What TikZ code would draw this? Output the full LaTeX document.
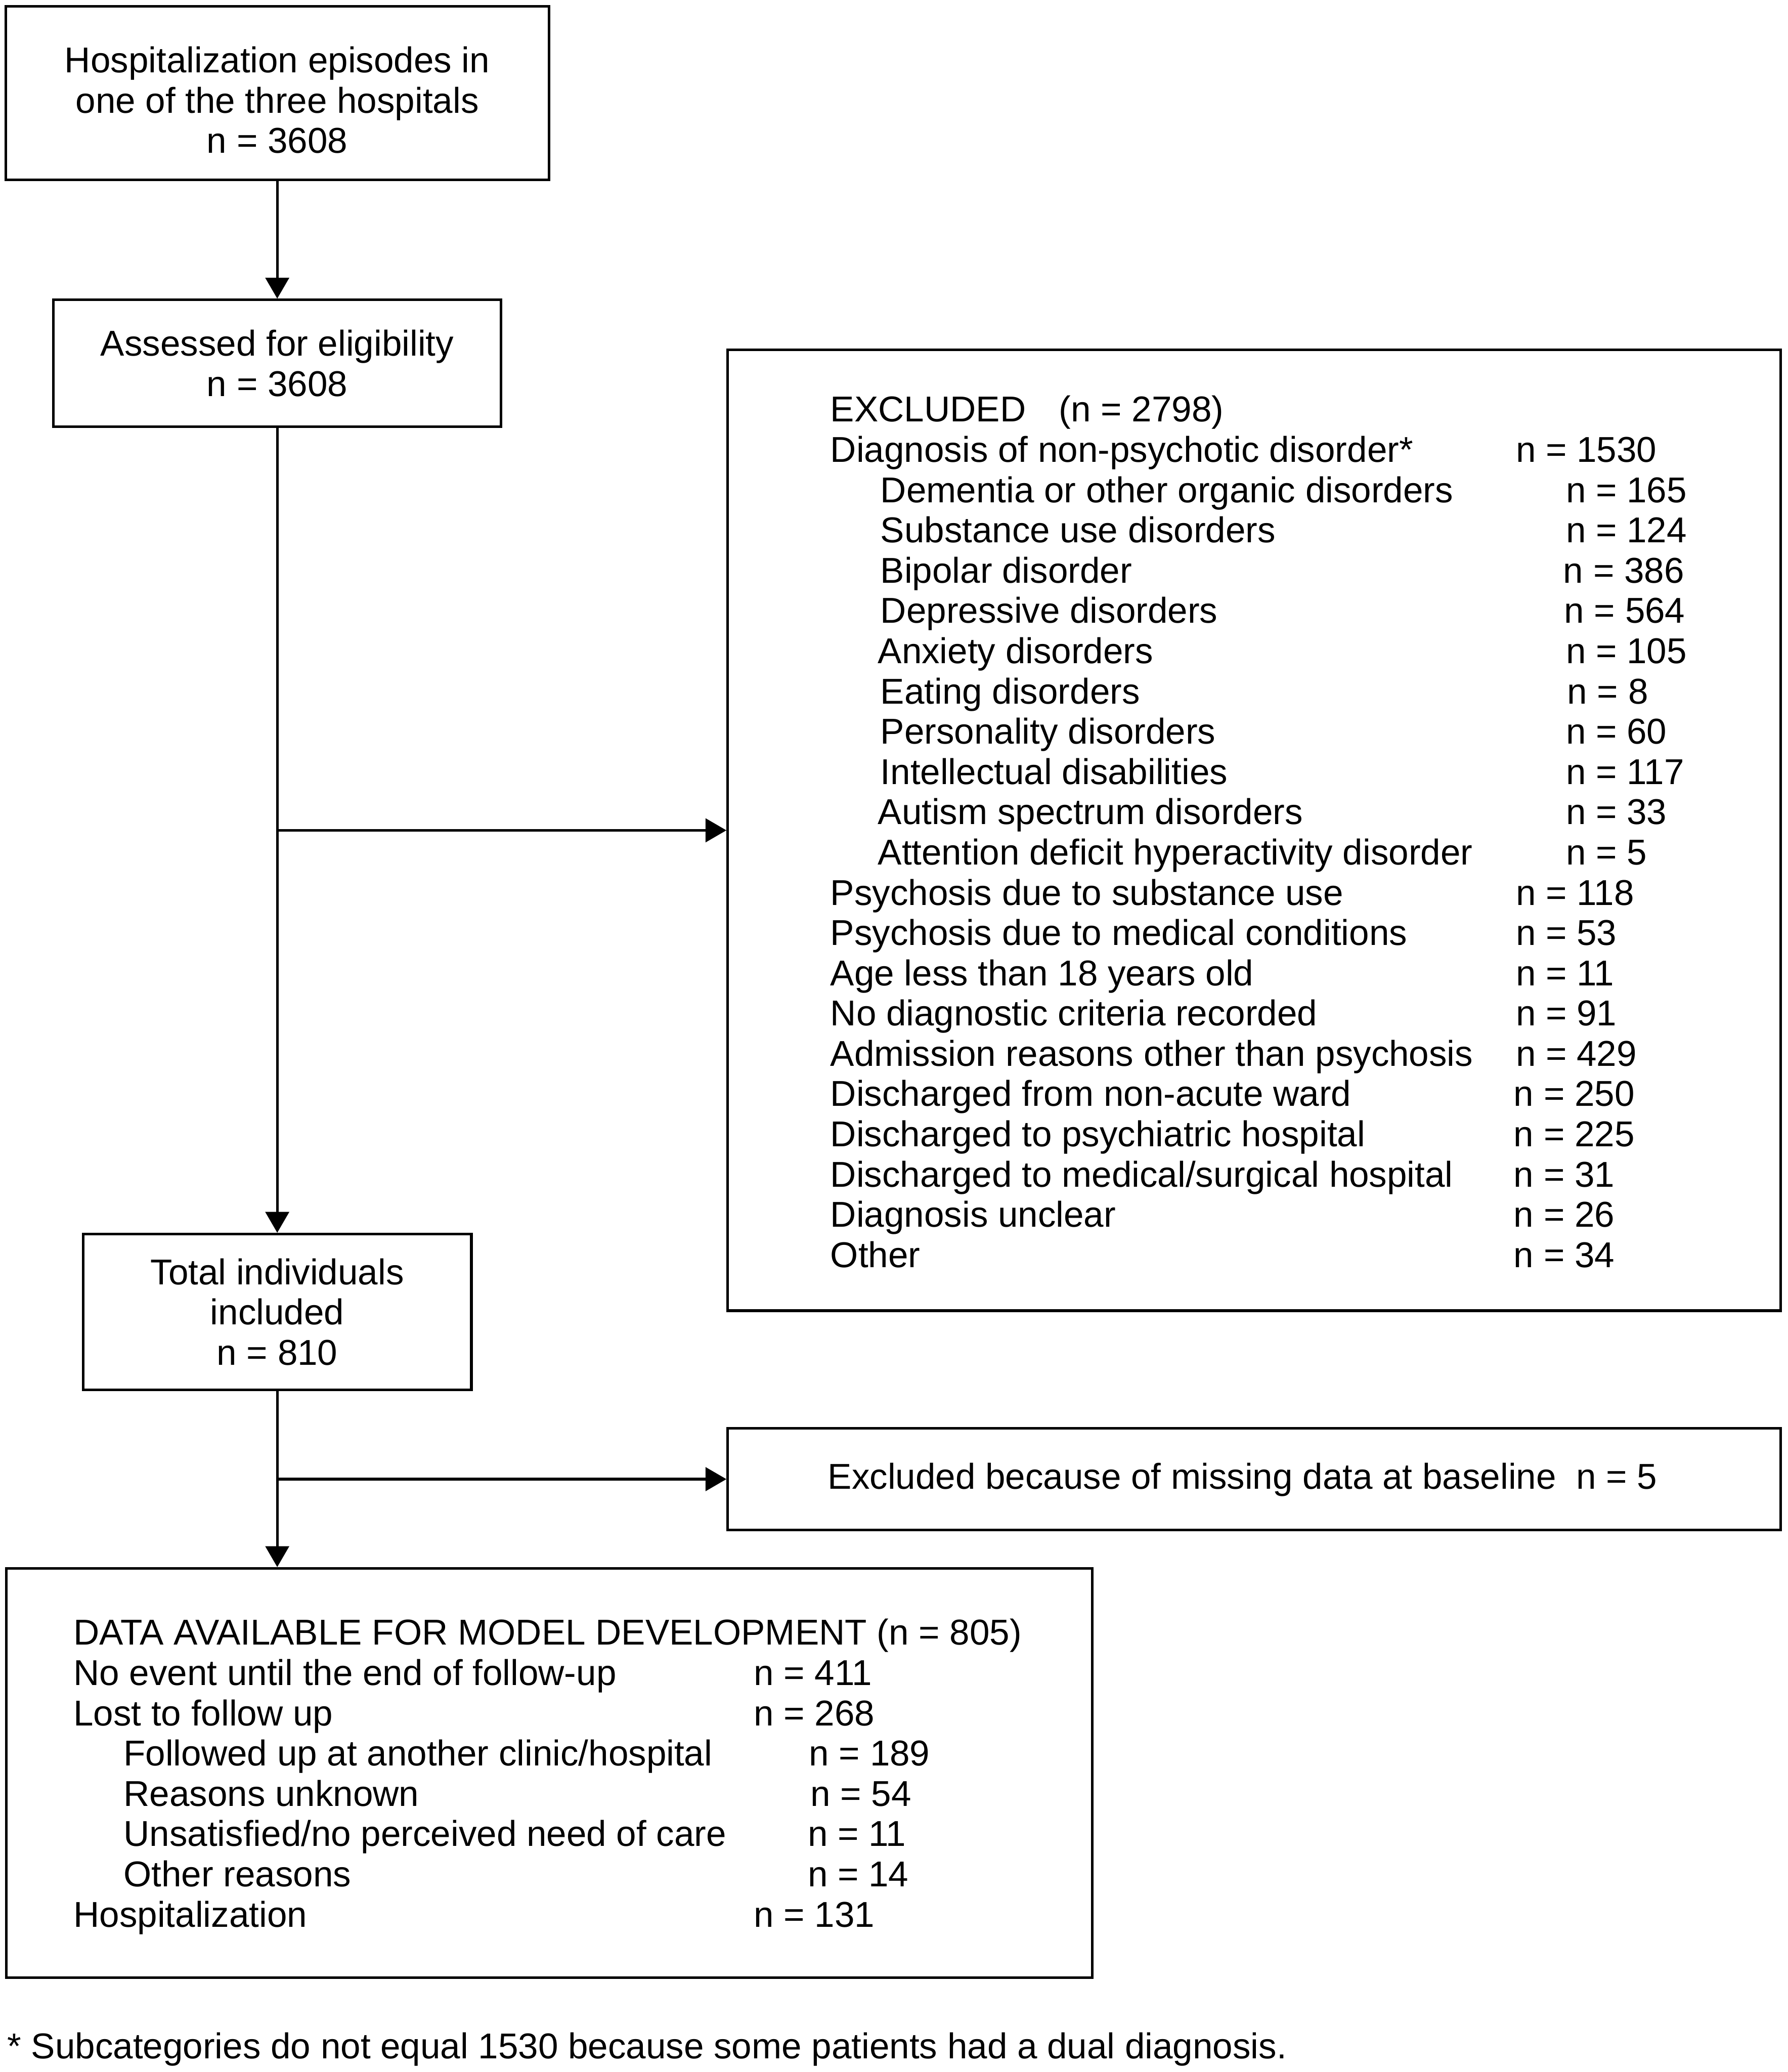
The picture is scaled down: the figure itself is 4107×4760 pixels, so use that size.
\documentclass[tikz,border=0pt]{standalone}
\usepackage{fontspec}
\setmainfont{Liberation Sans}
\usetikzlibrary{arrows.meta}
\begin{document}
\begin{tikzpicture}[x=0.1pt,y=-0.1pt,
  box/.style={draw, line width=0.6pt, inner sep=0pt, align=center,
     font=\fontsize{8.25}{9.25}\selectfont},
  ctxt/.style={inner sep=0pt, align=center, font=\fontsize{8.25}{9.25}\selectfont},
  txt/.style={anchor=base west, inner sep=0pt, font=\fontsize{8.25}{9.25}\selectfont},
  arr/.style={line width=0.6pt, -{Triangle[length=4.8pt,width=5.4pt]}},
  conn/.style={line width=0.6pt}]
\useasboundingbox (0,0) rectangle (4107,4760);
% main boxes
\node[box, minimum width=1248*0.1pt, minimum height=398*0.1pt] (b1) at (637,214) {};
\node[ctxt] (t1) at (637,230)
  {Hospitalization episodes in\\one of the three hospitals\\n = 3608};
\node[box, minimum width=1029*0.1pt, minimum height=291*0.1pt] (b2) at (637,834.5)
  {Assessed for eligibility\\n = 3608};
\node[box, minimum width=892*0.1pt, minimum height=358*0.1pt] (b3) at (637,3014)
  {Total individuals\\included\\n = 810};
\node[box, minimum width=2419*0.1pt, minimum height=2207*0.1pt] (ex) at (2881.5,1907.5) {};
\node[box, minimum width=2419*0.1pt, minimum height=234*0.1pt] (miss) at (2881.5,3398) {};
\node[box, minimum width=2495*0.1pt, minimum height=940*0.1pt] (b4) at (1262.5,4073) {};
% connectors
\draw[arr] (b1.south) -- (b2.north);
\draw[arr] (b2.south) -- (b3.north);
\draw[arr] (b2.south |- ex.west) -- (ex.west);
\draw[arr] (b3.south) -- (b3.south |- b4.north);
\draw[arr] (b3.south |- miss.west) -- (miss.west);
% excluded list
\node[txt] (e0) at (1906,969) {EXCLUDED\hspace{7.6pt}(n = 2798)};
\node[txt] (e1) at (1906,1061.5) {Diagnosis of non-psychotic disorder*};
\node[txt] (n1) at (3481,1061.5) {n = 1530};
\node[txt] (e2) at (2021,1154) {Dementia or other organic disorders};
\node[txt] (n2) at (3596,1154) {n = 165};
\node[txt] (e3) at (2021,1246.5) {Substance use disorders};
\node[txt] (n3) at (3596,1246.5) {n = 124};
\node[txt] (e4) at (2021,1339) {Bipolar disorder};
\node[txt] (n4) at (3590,1339) {n = 386};
\node[txt] (e5) at (2021,1431.5) {Depressive disorders};
\node[txt] (n5) at (3592,1431.5) {n = 564};
\node[txt] (e6) at (2015,1524) {Anxiety disorders};
\node[txt] (n6) at (3596,1524) {n = 105};
\node[txt] (e7) at (2021,1616.5) {Eating disorders};
\node[txt] (n7) at (3599,1616.5) {n = 8};
\node[txt] (e8) at (2021,1709) {Personality disorders};
\node[txt] (n8) at (3596,1709) {n = 60};
\node[txt] (e9) at (2021,1801.5) {Intellectual disabilities};
\node[txt] (n9) at (3596,1801.5) {n = 117};
\node[txt] (e10) at (2015,1894) {Autism spectrum disorders};
\node[txt] (n10) at (3596,1894) {n = 33};
\node[txt] (e11) at (2015,1986.5) {Attention deficit hyperactivity disorder};
\node[txt] (n11) at (3596,1986.5) {n = 5};
\node[txt] (e12) at (1906,2079) {Psychosis due to substance use};
\node[txt] (n12) at (3481,2079) {n = 118};
\node[txt] (e13) at (1906,2171.5) {Psychosis due to medical conditions};
\node[txt] (n13) at (3481,2171.5) {n = 53};
\node[txt] (e14) at (1906,2264) {Age less than 18 years old};
\node[txt] (n14) at (3481,2264) {n = 11};
\node[txt] (e15) at (1906,2356.5) {No diagnostic criteria recorded};
\node[txt] (n15) at (3481,2356.5) {n = 91};
\node[txt] (e16) at (1906,2449) {Admission reasons other than psychosis};
\node[txt] (n16) at (3481,2449) {n = 429};
\node[txt] (e17) at (1906,2541.5) {Discharged from non-acute ward};
\node[txt] (n17) at (3476,2541.5) {n = 250};
\node[txt] (e18) at (1906,2634) {Discharged to psychiatric hospital};
\node[txt] (n18) at (3476,2634) {n = 225};
\node[txt] (e19) at (1906,2726.5) {Discharged to medical/surgical hospital};
\node[txt] (n19) at (3476,2726.5) {n = 31};
\node[txt] (e20) at (1906,2819) {Diagnosis unclear};
\node[txt] (n20) at (3476,2819) {n = 26};
\node[txt] (e21) at (1906,2911.5) {Other};
\node[txt] (n21) at (3476,2911.5) {n = 34};
% missing data
\node[txt] (mt) at (1900,3421) {Excluded because of missing data at baseline\ \ n = 5};
% bottom box list
\node[txt] (d0) at (167,3779) {DATA AVAILABLE FOR MODEL DEVELOPMENT (n = 805)};
\node[txt] (d1) at (167,3871.5) {No event until the end of follow-up};
\node[txt] (m1) at (1730,3871.5) {n = 411};
\node[txt] (d2) at (167,3964) {Lost to follow up};
\node[txt] (m2) at (1730,3964) {n = 268};
\node[txt] (d3) at (282,4056.5) {Followed up at another clinic/hospital};
\node[txt] (m3) at (1857,4056.5) {n = 189};
\node[txt] (d4) at (282,4149) {Reasons unknown};
\node[txt] (m4) at (1860,4149) {n = 54};
\node[txt] (d5) at (282,4241.5) {Unsatisfied/no perceived need of care};
\node[txt] (m5) at (1854,4241.5) {n = 11};
\node[txt] (d6) at (282,4334) {Other reasons};
\node[txt] (m6) at (1854,4334) {n = 14};
\node[txt] (d7) at (167,4426.5) {Hospitalization};
\node[txt] (m7) at (1730,4426.5) {n = 131};
% footnote
\node[txt] (fn) at (15,4729) {* Subcategories do not equal 1530 because some patients had a dual diagnosis.};
\end{tikzpicture}
\end{document}
